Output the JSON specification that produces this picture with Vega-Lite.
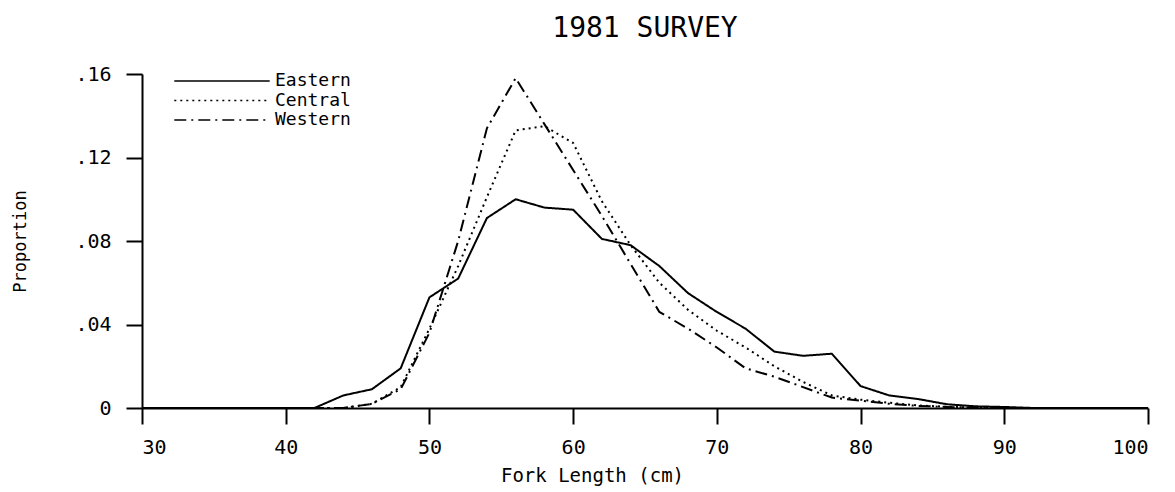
{
  "$schema": "https://vega.github.io/schema/vega-lite/v6.json",
  "width": 1006,
  "height": 334,
  "autosize": {"type": "none"},
  "padding": {"left": 142, "top": 74, "right": 27, "bottom": 84},
  "background": "white",
  "title": {
    "text": "1981 SURVEY",
    "font": "DejaVu Sans Mono",
    "fontSize": 28,
    "fontWeight": "normal",
    "color": "black",
    "anchor": "middle",
    "offset": 21
  },
  "data": {
    "values": [
      {"region": "Eastern", "length": 30, "proportion": 0},
      {"region": "Eastern", "length": 42, "proportion": 0},
      {"region": "Eastern", "length": 44, "proportion": 0.006},
      {"region": "Eastern", "length": 46, "proportion": 0.009},
      {"region": "Eastern", "length": 48, "proportion": 0.019},
      {"region": "Eastern", "length": 50, "proportion": 0.053},
      {"region": "Eastern", "length": 52, "proportion": 0.062},
      {"region": "Eastern", "length": 54, "proportion": 0.091},
      {"region": "Eastern", "length": 56, "proportion": 0.100},
      {"region": "Eastern", "length": 58, "proportion": 0.096},
      {"region": "Eastern", "length": 60, "proportion": 0.095},
      {"region": "Eastern", "length": 62, "proportion": 0.081},
      {"region": "Eastern", "length": 64, "proportion": 0.078},
      {"region": "Eastern", "length": 66, "proportion": 0.068},
      {"region": "Eastern", "length": 68, "proportion": 0.055},
      {"region": "Eastern", "length": 70, "proportion": 0.046},
      {"region": "Eastern", "length": 72, "proportion": 0.038},
      {"region": "Eastern", "length": 74, "proportion": 0.027},
      {"region": "Eastern", "length": 76, "proportion": 0.025},
      {"region": "Eastern", "length": 78, "proportion": 0.026},
      {"region": "Eastern", "length": 80, "proportion": 0.0105},
      {"region": "Eastern", "length": 82, "proportion": 0.006},
      {"region": "Eastern", "length": 84, "proportion": 0.0043},
      {"region": "Eastern", "length": 86, "proportion": 0.0018},
      {"region": "Eastern", "length": 88, "proportion": 0.0008},
      {"region": "Eastern", "length": 90, "proportion": 0.0005},
      {"region": "Eastern", "length": 92, "proportion": 0},
      {"region": "Eastern", "length": 100, "proportion": 0},
      {"region": "Central", "length": 30, "proportion": 0},
      {"region": "Central", "length": 44, "proportion": 0},
      {"region": "Central", "length": 46, "proportion": 0.002},
      {"region": "Central", "length": 48, "proportion": 0.010},
      {"region": "Central", "length": 50, "proportion": 0.038},
      {"region": "Central", "length": 52, "proportion": 0.068},
      {"region": "Central", "length": 54, "proportion": 0.101},
      {"region": "Central", "length": 56, "proportion": 0.133},
      {"region": "Central", "length": 58, "proportion": 0.135},
      {"region": "Central", "length": 60, "proportion": 0.127},
      {"region": "Central", "length": 62, "proportion": 0.099},
      {"region": "Central", "length": 64, "proportion": 0.078},
      {"region": "Central", "length": 66, "proportion": 0.060},
      {"region": "Central", "length": 68, "proportion": 0.047},
      {"region": "Central", "length": 70, "proportion": 0.037},
      {"region": "Central", "length": 72, "proportion": 0.029},
      {"region": "Central", "length": 74, "proportion": 0.020},
      {"region": "Central", "length": 76, "proportion": 0.0125},
      {"region": "Central", "length": 78, "proportion": 0.006},
      {"region": "Central", "length": 80, "proportion": 0.004},
      {"region": "Central", "length": 82, "proportion": 0.0025},
      {"region": "Central", "length": 84, "proportion": 0.0012},
      {"region": "Central", "length": 86, "proportion": 0.0006},
      {"region": "Central", "length": 88, "proportion": 0.0002},
      {"region": "Central", "length": 90, "proportion": 0},
      {"region": "Central", "length": 100, "proportion": 0},
      {"region": "Western", "length": 30, "proportion": 0},
      {"region": "Western", "length": 44, "proportion": 0},
      {"region": "Western", "length": 46, "proportion": 0.002},
      {"region": "Western", "length": 48, "proportion": 0.009},
      {"region": "Western", "length": 50, "proportion": 0.036},
      {"region": "Western", "length": 52, "proportion": 0.080},
      {"region": "Western", "length": 54, "proportion": 0.134},
      {"region": "Western", "length": 56, "proportion": 0.158},
      {"region": "Western", "length": 58, "proportion": 0.136},
      {"region": "Western", "length": 60, "proportion": 0.114},
      {"region": "Western", "length": 62, "proportion": 0.092},
      {"region": "Western", "length": 64, "proportion": 0.069},
      {"region": "Western", "length": 66, "proportion": 0.046},
      {"region": "Western", "length": 68, "proportion": 0.038},
      {"region": "Western", "length": 70, "proportion": 0.029},
      {"region": "Western", "length": 72, "proportion": 0.019},
      {"region": "Western", "length": 74, "proportion": 0.015},
      {"region": "Western", "length": 76, "proportion": 0.010},
      {"region": "Western", "length": 78, "proportion": 0.005},
      {"region": "Western", "length": 80, "proportion": 0.0035},
      {"region": "Western", "length": 82, "proportion": 0.002},
      {"region": "Western", "length": 84, "proportion": 0.001},
      {"region": "Western", "length": 86, "proportion": 0.0005},
      {"region": "Western", "length": 88, "proportion": 0.0002},
      {"region": "Western", "length": 90, "proportion": 0},
      {"region": "Western", "length": 100, "proportion": 0}
    ]
  },
  "mark": {"type": "line", "color": "black", "strokeWidth": 2, "clip": false},
  "encoding": {
    "x": {
      "field": "length",
      "type": "quantitative",
      "scale": {"domain": [30, 100], "nice": false, "zero": false},
      "axis": {
        "title": "Fork Length (cm)",
        "values": [30, 40, 50, 60, 70, 80, 90, 100],
        "labelPadding": 13,
        "titleFontSize": 19,
        "titlePadding": 9,
        "titleX": 450
      }
    },
    "y": {
      "field": "proportion",
      "type": "quantitative",
      "scale": {"domain": [0, 0.16], "nice": false},
      "axis": {
        "title": "Proportion",
        "values": [0, 0.04, 0.08, 0.12, 0.16],
        "labelExpr": "datum.value == 0 ? '0' : replace(format(datum.value, '.2f'), '0.', '.')",
        "labelPadding": 15,
        "titleFontSize": 17,
        "titlePadding": 45
      }
    },
    "strokeDash": {
      "field": "region",
      "type": "nominal",
      "scale": {
        "domain": ["Eastern", "Central", "Western"],
        "range": [[1, 0], [2, 4], [12, 5, 2, 5]]
      },
      "legend": {
        "title": null,
        "orient": "none",
        "legendX": 70,
        "legendY": -3,
        "symbolType": "M-5.3,0H5.3",
        "symbolSize": 324,
        "symbolStrokeColor": "black",
        "symbolStrokeWidth": 1.5,
        "labelFont": "DejaVu Sans Mono",
        "labelFontSize": 18,
        "labelColor": "black",
        "labelOffset": 43,
        "rowPadding": 0.5
      }
    },
    "order": {"field": "length", "type": "quantitative"}
  },
  "config": {
    "view": {"stroke": null},
    "axis": {
      "grid": false,
      "domainColor": "black",
      "domainWidth": 2,
      "tickColor": "black",
      "tickWidth": 2,
      "tickSize": 16,
      "labelFont": "DejaVu Sans Mono",
      "labelFontSize": 20,
      "labelColor": "black",
      "titleFont": "DejaVu Sans Mono",
      "titleFontWeight": "normal",
      "titleColor": "black"
    }
  }
}
